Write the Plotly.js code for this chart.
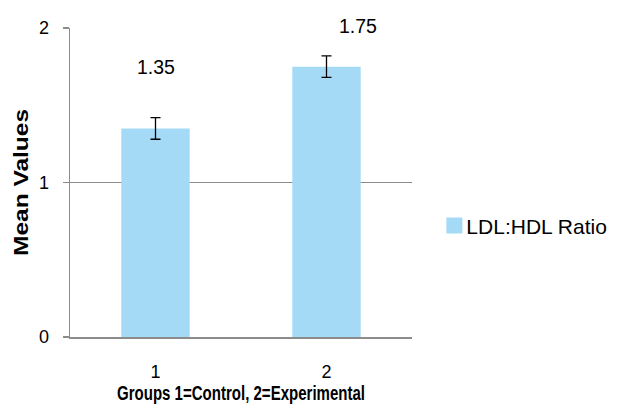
<!DOCTYPE html>
<html>
<head>
<meta charset="utf-8">
<script src="https://cdn.plot.ly/plotly-3.0.1.min.js"></script>
<style>html,body{margin:0;padding:0;background:#fff;}#chart{width:622px;height:418px;}</style>
</head>
<body>
<div id="chart"></div>
<script>
// Data
var groups = ['1', '2'];
var meanValues = [1.35, 1.75];
var errorValues = [0.07, 0.07];
var valueLabels = ['1.35', '1.75'];
var seriesName = 'LDL:HDL Ratio';
var yTickVals = [0, 1, 2];
var yTickText = ['0', '1', '2'];
var xTitle = 'Groups 1=Control, 2=Experimental';
var yTitle = 'Mean Values';

var barColor = '#A5DAF6';
var gridGrey = '#8c8c8c';
var FONT = 'Liberation Sans, Arial, sans-serif';

var trace = {
  type: 'bar',
  x: groups,
  y: meanValues,
  name: seriesName,
  marker: {color: barColor, line: {width: 0}},
  error_y: {type: 'data', array: errorValues, visible: true, color: '#000', thickness: 1.3, width: 5},
  showlegend: true,
  hoverinfo: 'none'
};

// label offsets (pixels) as placed in the original
var labelXShift = [0, 31];
var labelYShift = [61, 41];
var annotations = groups.map(function (g, i) {
  return {
    x: i, y: meanValues[i], xref: 'x', yref: 'y',
    text: valueLabels[i], showarrow: false,
    xanchor: 'center', yanchor: 'middle',
    xshift: labelXShift[i], yshift: labelYShift[i],
    font: {family: FONT, size: 19.5, color: '#000'}
  };
});

var layout = {
  width: 622, height: 418,
  margin: {l: 70, r: 210, t: 28, b: 81, pad: 0, autoexpand: false},
  paper_bgcolor: '#fff', plot_bgcolor: '#fff',
  font: {family: FONT, color: '#000'},
  bargap: 0.6,
  showlegend: true,
  legend: {
    x: 1.042, xanchor: 'left', y: 0.36, yanchor: 'middle',
    font: {family: FONT, size: 21, color: '#000'},
    bgcolor: 'rgba(0,0,0,0)'
  },
  xaxis: {
    type: 'category', range: [-0.5, groups.length - 0.5],
    showline: true, linecolor: gridGrey, linewidth: 1.5,
    ticks: '', showgrid: false, zeroline: false,
    tickfont: {family: FONT, size: 18, color: '#000'},
    ticklabelstandoff: 18,
    title: {text: xTitle, standoff: 1,
      font: {family: FONT, size: 20, weight: 'bold', color: '#000'}},
    automargin: false,
    fixedrange: true
  },
  yaxis: {
    range: [0, 2], tickvals: yTickVals, ticktext: yTickText,
    showline: true, linecolor: gridGrey, linewidth: 1.5,
    ticks: 'outside', ticklen: 6, tickcolor: gridGrey, tickwidth: 1.5,
    showgrid: true, gridcolor: gridGrey, gridwidth: 1.4,
    zeroline: false,
    tickfont: {family: FONT, size: 18, color: '#000'},
    ticklabelstandoff: 10,
    title: {text: yTitle, standoff: 5,
      font: {family: FONT, size: 20, weight: 'bold', color: '#000'}},
    automargin: false,
    fixedrange: true
  },
  annotations: annotations
};

Plotly.newPlot('chart', [trace], layout, {staticPlot: true, displayModeBar: false}).then(function (gd) {
  // Match the condensed / stretched title widths of the original image
  var xt = gd.querySelector('.g-xtitle text');
  if (xt) { xt.setAttribute('textLength', '248'); xt.setAttribute('lengthAdjust', 'spacingAndGlyphs'); }
  var yt = gd.querySelector('.g-ytitle text');
  if (yt) { yt.setAttribute('textLength', '147'); yt.setAttribute('lengthAdjust', 'spacingAndGlyphs'); }
  // Larger legend swatch like the original
  var sw = gd.querySelectorAll('.legendpoints path');
  sw.forEach(function (p) { p.setAttribute('d', 'M16,8H0V-8H16Z'); });
});
</script>
</body>
</html>
